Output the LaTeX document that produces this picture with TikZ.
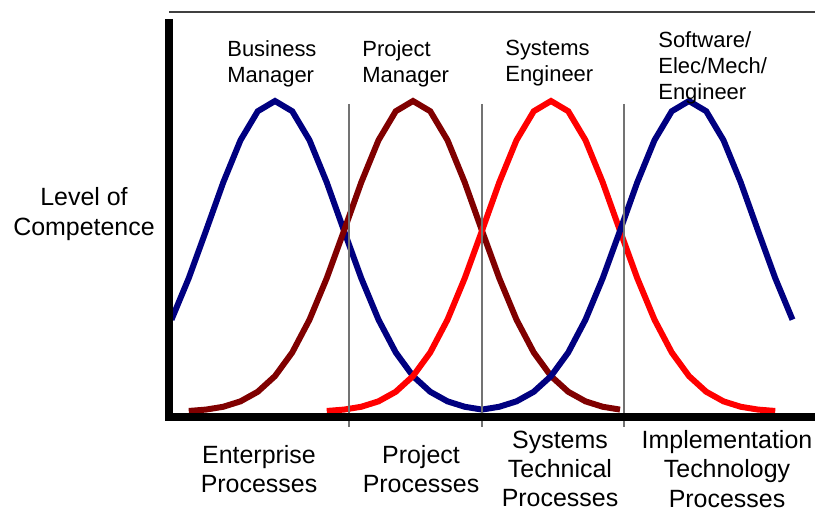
\documentclass[tikz,border=0pt]{standalone}
\usepackage{fontspec}
\setmainfont{Liberation Sans}
\usepackage{tikz}
\usetikzlibrary{positioning}

\definecolor{darkblue}{RGB}{0,0,128}
\definecolor{darkred}{RGB}{128,0,0}

\begin{document}
\begin{tikzpicture}[
  curve/.style={line width=3.4pt},
  axis/.style={line width=4.2pt},
  divider/.style={black!55, line width=1pt},
  role/.style={font=\fontsize{12.5}{14.8}\selectfont, align=left, anchor=north west, inner sep=0pt},
  area/.style={font=\fontsize{14.2}{16.6}\selectfont, align=center, inner sep=0pt}
]
  \useasboundingbox (-3.38,-1.88) rectangle (12.92,8.34);
  % bell curves
  \draw[curve, darkblue] plot[domain=-6:12, samples=19] ({2.12+0.345*\x}, {0.1+6.22*exp(-0.03374*\x*\x)});
  \draw[curve, darkred] plot[domain=-13:12, samples=26] ({4.88+0.345*\x}, {0.1+6.22*exp(-0.03374*\x*\x)});
  \draw[curve, red] plot[domain=-13:13, samples=27] ({7.64+0.345*\x}, {0.1+6.22*exp(-0.03374*\x*\x)});
  \draw[curve, darkblue] plot[domain=-12:6, samples=19] ({10.40+0.345*\x}, {0.1+6.22*exp(-0.03374*\x*\x)});
  % dividers
  \draw[divider] (3.6,6.26) -- (3.6,-0.2);
  \draw[divider] (6.26,6.26) -- (6.26,-0.2);
  \draw[divider] (9.1,6.26) -- (9.1,-0.2);
  % axes
  \draw[axis] (0,7.96) -- (0,0) -- (12.92,0);
  \draw[line width=1.1pt, black!75] (0,8.1) -- (12.92,8.1);

  \node[role] (business) at (1.16,7.54) {Business\\Manager};
  \node[role] (projmgr) at (3.86,7.54) {Project\\Manager};
  \node[role] (syseng) at (6.72,7.54) {Systems\\Engineer};
  \node[role] (software) at (9.78,7.72) {Software/\\Elec/Mech/\\Engineer};

  \node[area] (competence) at (-1.7,4.06) {Level of\\Competence};

  \node[area] (enterprise) at (1.8,-1.04) {Enterprise\\Processes};
  \node[area] (projproc) at (5.04,-1.04) {Project\\Processes};
  \node[area] (sysproc) at (7.82,-1.04) {Systems\\Technical\\Processes};
  \node[area] (implproc) at (11.16,-1.04) {Implementation\\Technology\\Processes};
\end{tikzpicture}
\end{document}
